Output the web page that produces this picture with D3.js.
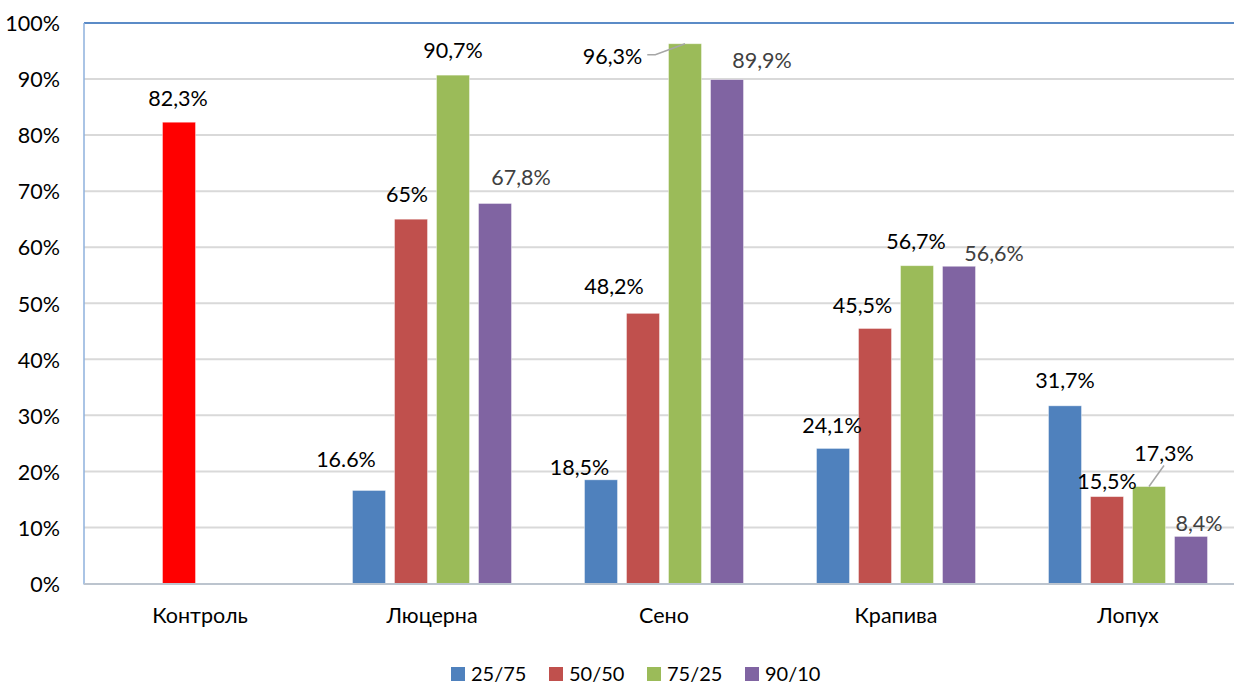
<!DOCTYPE html>
<html><head><meta charset="utf-8">
<script src="https://cdn.jsdelivr.net/npm/d3@7"></script>
<style>
html,body{margin:0;padding:0;background:#fff;}
svg{display:block;font-family:Lato,"Noto Sans",sans-serif;}
</style></head>
<body><svg id="chart" width="1234" height="684"></svg>
<script>
// ---- data ----
const categories = ["Контроль", "Люцерна", "Сено", "Крапива", "Лопух"];
const seriesNames = ["25/75", "50/50", "75/25", "90/10"];
const values2575 = [null, 16.6, 18.5, 24.1, 31.7];
const values5050 = [82.3, 65, 48.2, 45.5, 15.5];
const values7525 = [null, 90.7, 96.3, 56.7, 17.3];
const values9010 = [null, 67.8, 89.9, 56.6, 8.4];
const labels2575 = [null, "16.6%", "18,5%", "24,1%", "31,7%"];
const labels5050 = ["82,3%", "65%", "48,2%", "45,5%", "15,5%"];
const labels7525 = [null, "90,7%", "96,3%", "56,7%", "17,3%"];
const labels9010 = [null, "67,8%", "89,9%", "56,6%", "8,4%"];
const yTicks = [0, 10, 20, 30, 40, 50, 60, 70, 80, 90, 100];

// ---- style / layout ----
const FS = 21.5;
const colors = {"25/75": "#4f81bd", "50/50": "#c0504d", "75/25": "#9bbb59", "90/10": "#8064a2"};
const highlight = {category: "Контроль", color: "#ff0000"};
const labelColors = {"25/75": "#000", "50/50": "#000", "75/25": "#000", "90/10": "#404040"};
// label nudges relative to bar top centre (label centre): [dx, dy, leader]
const nudges = {
  "25/75": [null, [-23, -31], [-21.5, -13], [-1, -23], [0, -26]],
  "50/50": [[-1, -24], [-4, -25], [-29, -27], [-12.5, -23.5], [0, -15.5]],
  "75/25": [null, [0, -25], [-72.5, 13, true], [-1, -24], [15, -33, true]],
  "90/10": [null, [26, -26], [35, -19], [35, -13], [8, -13]]
};
const seriesData = {"25/75": values2575, "50/50": values5050, "75/25": values7525, "90/10": values9010};
const seriesLabels = {"25/75": labels2575, "50/50": labels5050, "75/25": labels7525, "90/10": labels9010};

const svg = d3.select("#chart");
const mLeft = 84, mTop = 23, mBottom = 583.5, mRight = 1244;
const x0 = d3.scaleBand().domain(categories).range([mLeft, mRight]).padding(0);
const x1 = d3.scaleBand().domain(seriesNames).range([36.5, 195.5]).paddingInner(9 / 42);
const y = d3.scaleLinear().domain([0, 100]).range([mBottom, mTop]);

// gridlines
svg.append("g").selectAll("line").data(yTicks.filter(d => d > 0 && d < 100)).join("line")
  .attr("x1", mLeft).attr("x2", 1234).attr("y1", d => y(d)).attr("y2", d => y(d))
  .attr("stroke", "#d9d9d9").attr("stroke-width", 2);

// y axis labels
const yAxis = d3.axisLeft(y).tickValues(yTicks).tickFormat(d => d + "%").tickSize(0).tickPadding(24);
const gy = svg.append("g").attr("transform", `translate(${mLeft},0)`).call(yAxis);
gy.select(".domain").remove();
gy.selectAll("text").attr("font-size", FS).attr("fill", "#000").attr("font-family", "Lato,'Noto Sans',sans-serif").attr("dy", "0.36em");

// x axis labels
const xAxis = d3.axisBottom(x0).tickSize(0).tickPadding(24);
const gx = svg.append("g").attr("transform", `translate(0,${mBottom})`).call(xAxis);
gx.select(".domain").remove();
gx.selectAll("text").attr("font-size", FS).attr("fill", "#000").attr("font-family", "Lato,'Noto Sans',sans-serif");

// bars
const rows = [];
seriesNames.forEach(s => categories.forEach((c, i) => {
  const v = seriesData[s][i];
  if (v != null) rows.push({s, c, i, v, label: seriesLabels[s][i], nudge: nudges[s][i]});
}));
svg.append("g").selectAll("rect").data(rows).join("rect")
  .attr("x", d => x0(d.c) + x1(d.s)).attr("width", x1.bandwidth())
  .attr("y", d => y(d.v)).attr("height", d => y(0) - y(d.v))
  .attr("fill", d => d.c === highlight.category ? highlight.color : colors[d.s])
  .attr("stroke", "rgba(255,255,255,0.5)").attr("stroke-width", 0.8);

// plot frame
svg.append("line").attr("x1", mLeft).attr("x2", 1234).attr("y1", mTop).attr("y2", mTop)
  .attr("stroke", "#5b8bc7").attr("stroke-width", 2);
svg.append("line").attr("x1", mLeft).attr("x2", mLeft).attr("y1", mTop).attr("y2", mBottom + 1)
  .attr("stroke", "#8eb0dc").attr("stroke-width", 1.5);
svg.append("line").attr("x1", mLeft).attr("x2", 1234).attr("y1", mBottom + 0.5).attr("y2", mBottom + 0.5)
  .attr("stroke", "#bcc4ce").attr("stroke-width", 2);

// data labels
const lg = svg.append("g");
rows.forEach(d => {
  const bx = x0(d.c) + x1(d.s) + x1.bandwidth() / 2, by = y(d.v);
  const lx = bx + d.nudge[0], ly = by + d.nudge[1];
  const t = lg.append("text").attr("x", lx).attr("y", ly).attr("dy", "0.36em")
    .attr("text-anchor", "middle").attr("font-size", FS).attr("fill", labelColors[d.s]).text(d.label);
  if (d.nudge[2]) {
    const w = t.node().getComputedTextLength();
    let pts;
    if (lx + w / 2 < bx - x1.bandwidth() / 2) {
      pts = [[lx + w / 2 + 5, ly - 2], [lx + w / 2 + 13, ly - 2], [bx, by]];
    } else {
      pts = [[lx, ly + 12], [bx, by]];
    }
    lg.append("path").attr("d", d3.line()(pts)).attr("fill", "none")
      .attr("stroke", "#a6a6a6").attr("stroke-width", 1.5);
  }
});

// legend
const legend = svg.append("g").attr("transform", "translate(451,667)");
const li = legend.selectAll("g").data(seriesNames).join("g")
  .attr("transform", (d, i) => `translate(${i * 98},0)`);
li.append("rect").attr("width", 14).attr("height", 14).attr("fill", d => colors[d]);
li.append("text").attr("x", 20).attr("y", 7).attr("dy", "0.36em").attr("font-size", 20).attr("fill", "#000").text(d => d);
</script></body></html>
